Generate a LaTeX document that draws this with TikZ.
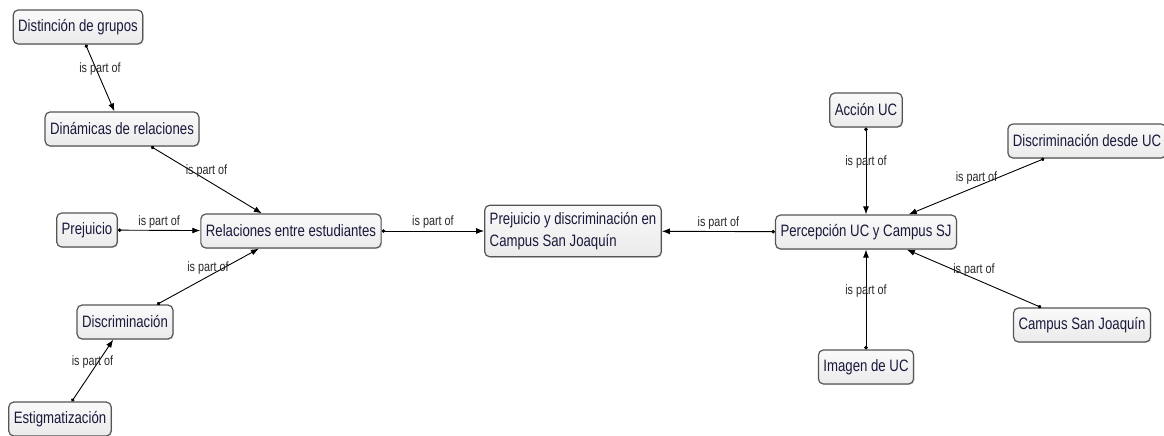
\documentclass[tikz,border=0pt]{standalone}
\usepackage{fontspec}
\setmainfont{Liberation Sans}[FakeStretch=0.8]
\usetikzlibrary{arrows.meta,shadows}
\definecolor{boxline}{RGB}{85,85,85}
\definecolor{ink}{RGB}{25,25,60}
\definecolor{lblink}{RGB}{40,40,40}

\begin{document}
\begin{tikzpicture}[x=1pt,y=1pt,
    concept/.style={draw=boxline, line width=1.2pt, rounded corners=5pt,
        top color=gray!4, bottom color=gray!16, text=ink,
        drop shadow={shadow xshift=1pt, shadow yshift=-1pt, fill=gray!50},
        font=\fontsize{16.5}{22}\selectfont, minimum height=34pt,
        inner xsep=5pt, inner ysep=4pt},
    partof/.style={line width=0.9pt, {Circle[length=3.5pt]}-{Latex[length=8pt,width=6pt]}},
    lbl/.style={midway, above, inner sep=2pt, text=lblink,
        font=\fontsize{13.5}{15}\selectfont}]
    \useasboundingbox (0,0) rectangle (1164,436);
    % left branch
    \node[concept] (dist)   at (78,409)  {Distinción de grupos};
    \node[concept] (dinam)  at (122,307) {Dinámicas de relaciones};
    \node[concept] (prej)   at (87,206)  {Prejuicio};
    \node[concept] (relac)  at (291,205) {Relaciones entre estudiantes};
    \node[concept] (discr)  at (125,114) {Discriminación};
    \node[concept] (estig)  at (60,17)   {Estigmatización};
    % centre
    \node[concept, align=left, inner ysep=7pt] (main) at (573,205)
        {Prejuicio y discriminación en\\Campus San Joaquín};
    % right branch
    \node[concept] (perc)   at (866,204) {Percepción UC y Campus SJ};
    \node[concept] (accion) at (866,326) {Acción UC};
    \node[concept] (ddUC)   at (1087,295) {Discriminación desde UC};
    \node[concept] (campus) at (1082,111) {Campus San Joaquín};
    \node[concept] (imagen) at (866,69)  {Imagen de UC};
    % every link reads "part is part of whole"
    \foreach \part/\whole in {dist/dinam, dinam/relac, prej/relac, discr/relac,
            estig/discr, relac/main, perc/main, accion/perc, ddUC/perc,
            campus/perc, imagen/perc}
        \draw[partof] (\part) -- node[lbl] {is part of} (\whole);
\end{tikzpicture}
\end{document}
